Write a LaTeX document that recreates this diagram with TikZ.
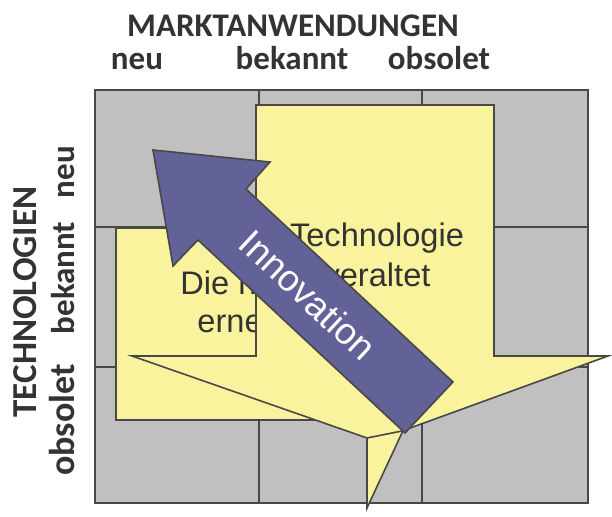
\documentclass[tikz,border=0pt]{standalone}
\usepackage{fontspec}
\setmainfont{Liberation Sans}
\newfontfamily\headfam{Carlito}

\definecolor{cellgray}{RGB}{192,192,192}
\definecolor{linegray}{RGB}{72,72,72}
\definecolor{notegold}{RGB}{250,243,157}
\definecolor{innoblue}{RGB}{98,98,152}
\definecolor{labelgray}{RGB}{51,51,51}

\tikzset{
	cell/.style = {fill = cellgray, draw = linegray, line width = 1.1pt},
	gridline/.style = {draw = linegray, line width = 1.1pt},
	callout/.style = {fill = notegold, draw = linegray, line width = 0.8pt},
	innoarrow/.style = {fill = innoblue, draw = linegray, line width = 0.8pt},
	headlabel/.style = {font = \headfam\bfseries\fontsize{16.5}{18}\selectfont, text = labelgray, inner sep = 0pt},
	notelabel/.style = {font = \fontsize{16.3}{18}\selectfont, text = labelgray, inner sep = 0pt}
}

\begin{document}
\begin{tikzpicture}[x = 0.5pt, y = -0.5pt]
	 \useasboundingbox (0, 0) rectangle (612, 517);
	 
	 \node[headlabel, anchor = base] (mkt) at (293, 37) {MARKTANWENDUNGEN};
	 \node[headlabel, anchor = base] (colneu) at (137, 70) {neu};
	 \node[headlabel, anchor = base] (colbek) at (292, 70) {bekannt};
	 \node[headlabel, anchor = base] (colobs) at (439, 70) {obsolet};
	 
	 \node[headlabel, anchor = base, rotate = 90, font = \headfam\bfseries\fontsize{17.5}{19}\selectfont] (tech) at (37, 302) {TECHNOLOGIEN};
	 \node[headlabel, anchor = base, rotate = 90] (rowneu) at (75, 172) {neu};
	 \node[headlabel, anchor = base, rotate = 90] (rowbek) at (75, 278) {bekannt};
	 \node[headlabel, anchor = base, rotate = 90, font = \headfam\bfseries\fontsize{18}{19}\selectfont] (rowobs) at (75, 420) {obsolet};
	 
	 \draw[cell] (95, 90) rectangle (588, 503);
	 \foreach \x in {259, 422}
	 \draw[gridline] (\x, 90) -- (\x, 503);
	 \foreach \y in {227, 367}
	 \draw[gridline] (95, \y) -- (588, \y);
	 
	 \draw[callout] (116, 228) -- (420, 228) -- (420, 420) -- (408, 420) -- (367, 508) -- (367, 420) -- (116, 420) -- cycle;
	 \node[notelabel, anchor = base west] (erneuA) at (180, 295) {Die neue Technik};
	 \node[notelabel, anchor = base west] (erneuB) at (197, 333) {erneuert sich};
	 
	 \draw[callout] (256, 105) -- (494, 105) -- (494, 356) -- (608, 356) -- (402, 431) -- (367, 438) -- (132, 356) -- (256, 356) -- cycle;
	 \node[notelabel, anchor = base] (veraltA) at (377, 247) {Technologie};
	 \node[notelabel, anchor = base] (veraltB) at (377, 287) {veraltet};
	 
	 \draw[innoarrow] (153, 150) -- (270, 162) -- (246, 189) -- (453, 382) -- (405, 433) -- (198, 240) -- (173, 266) -- cycle;
	 \node[notelabel, text = white, font = \fontsize{18.5}{20}\selectfont, rotate = -43] (inno) at (308, 295) {Innovation};
	 \end{tikzpicture}
\end{document}
